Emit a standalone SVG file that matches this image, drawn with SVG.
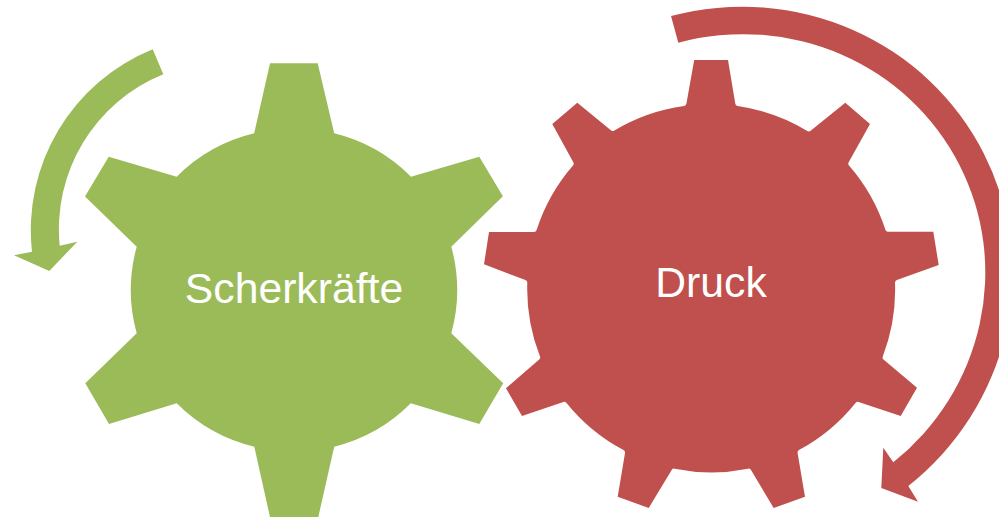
<svg xmlns="http://www.w3.org/2000/svg" width="999" height="517" viewBox="0 0 999 517">
<style>
.green{fill:#9BBB59}
.red{fill:#C0504D}
.label{fill:#fff;font-family:"Liberation Sans",Arial,sans-serif;font-size:42.7px;text-anchor:middle}
</style>
<rect width="999" height="517" fill="#fff"/>
<g id="connectors">
<path id="arrow-scherkraefte" class="green" d="M152.700 49.300A195 195 0 0 0 32 251.700L14 255.300L49.300 271L77.300 241.700L59.700 245.700A167 167 0 0 1 163.300 74.300Z"/>
<path id="arrow-druck" class="red" d="M671 16A274 269 -20 0 1 908.300 486L918 501.700L881.300 488L883.300 447.700L893.300 462.300A246 241 -20 0 0 678.300 42.700Z"/>
</g>
<g id="node-scherkraefte">
<path class="green" d="M270 63.300H317.700L334.200 133.300A163 163 0 0 1 411 176.700L479.300 156.700L502.900 196.300L451.300 246.700A163 163 0 0 1 451.300 333.300L503.200 383.300L479.300 424L410.800 403.300A163 163 0 0 1 334.200 446.700L318.300 517H270L254.300 446.700A163 163 0 0 1 176.700 403.300L109 424L85.300 383.300L136.700 333.300A163 163 0 0 1 136.700 246.700L85 196.500L108.700 156.700L176.700 176.700A163 163 0 0 1 254.200 133.300Z"/>
<text class="label" x="294" y="302.700">Scherkräfte</text>
</g>
<g id="node-druck">
<path class="red" d="M694.200 60H728L735.300 103.800Q735.600 105.800 737.600 106.100A184 184 0 0 1 807.300 131Q809 132 810.600 130.700L845.300 102.700L870 124L848.700 162.300Q847.700 164 849 165.500A184 184 0 0 1 885.400 229.800Q886 231.700 888 231.700H933.300L938.700 265L896.900 280Q895 280.700 895 282.700A184 184 0 0 1 882.800 356.400Q882 358.300 883.500 359.600L917 387.700L900.700 416L858.600 401.900Q856.700 401.300 855.500 402.900A184 184 0 0 1 799 450Q797.300 451 797.600 453L805 496.700L773.700 508L751 470Q750 468.300 748 468.700A184 184 0 0 1 674.700 468.700Q672.700 468.300 671.700 470L648.700 508L617.700 496.700L625 453Q625.300 451 623.500 450A184 184 0 0 1 566.500 402.900Q565.300 401.300 563.400 401.900L522 416L506 388.300L539.200 359.600Q540.700 358.300 540 356.400A184 184 0 0 1 527.300 282.700Q527.300 280.700 525.400 280L484 264.300L489 232H534Q536 232 536.600 230.100A184 184 0 0 1 573 165.500Q574.300 164 573.300 162.300L552.300 124L577.300 102.700L611.200 130.400Q612.700 131.700 614.400 130.600A184 184 0 0 1 684 106.100Q686 105.800 686.400 103.800Z"/>
<text class="label" x="711" y="296.700">Druck</text>
</g>
</svg>
